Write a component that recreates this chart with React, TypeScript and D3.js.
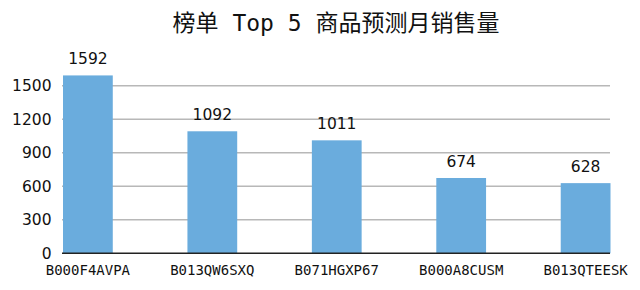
import React from "react";
import * as d3 from "d3";

const categories = ["B000F4AVPA", "B013QW6SXQ", "B071HGXP67", "B000A8CUSM", "B013QTEESK"];
const values = [1592, 1092, 1011, 674, 628];
const yTicks = [0, 300, 600, 900, 1200, 1500];
const title = "榜单 Top 5 商品预测月销售量";

const W = 640;
const H = 290;

export default function App() {
  const x = d3.scaleBand<string>().domain(categories).range([63, 610.5]).paddingInner(0.6).paddingOuter(0);
  const y = d3.scaleLinear().domain([0, 1500]).range([253.3, 85.7]);
  const bw = x.bandwidth();
  return (
    <svg width={W} height={H} style={{ position: "absolute", left: 0, top: 0, background: "#fff" }}>
      <text x={336} y={31} textAnchor="middle" fontSize={23}
        fontFamily="'DejaVu Sans Mono', 'Noto Sans CJK SC', sans-serif" fill="#111">{title}</text>
      {yTicks.filter((t) => t > 0).map((t) => (
        <line key={t} x1={62} x2={610} y1={y(t)} y2={y(t)} stroke="#b8b8b8" strokeWidth={1.5} />
      ))}
      {yTicks.map((t) => (
        <text key={"l" + t} x={51.5} y={y(t) + 5.7} textAnchor="end" fontSize={15.5}
          fontFamily="'DejaVu Sans', sans-serif" fill="#111">{t}</text>
      ))}
      {categories.map((c, i) => (
        <g key={c}>
          <rect x={x(c)} y={y(values[i])} width={bw} height={y(0) - y(values[i])} fill="#6aacdd" />
          <text x={(x(c) as number) + bw / 2} y={y(values[i]) - 11} textAnchor="middle" fontSize={15.5}
            fontFamily="'DejaVu Sans', sans-serif" fill="#111">{values[i]}</text>
          <text x={(x(c) as number) + bw / 2} y={275} textAnchor="middle" fontSize={14}
            fontFamily="'DejaVu Sans Mono', monospace" fill="#111">{c}</text>
        </g>
      ))}
      <line x1={62} x2={610} y1={y(0)} y2={y(0)} stroke="#222" strokeWidth={1.5} />
    </svg>
  );
}
